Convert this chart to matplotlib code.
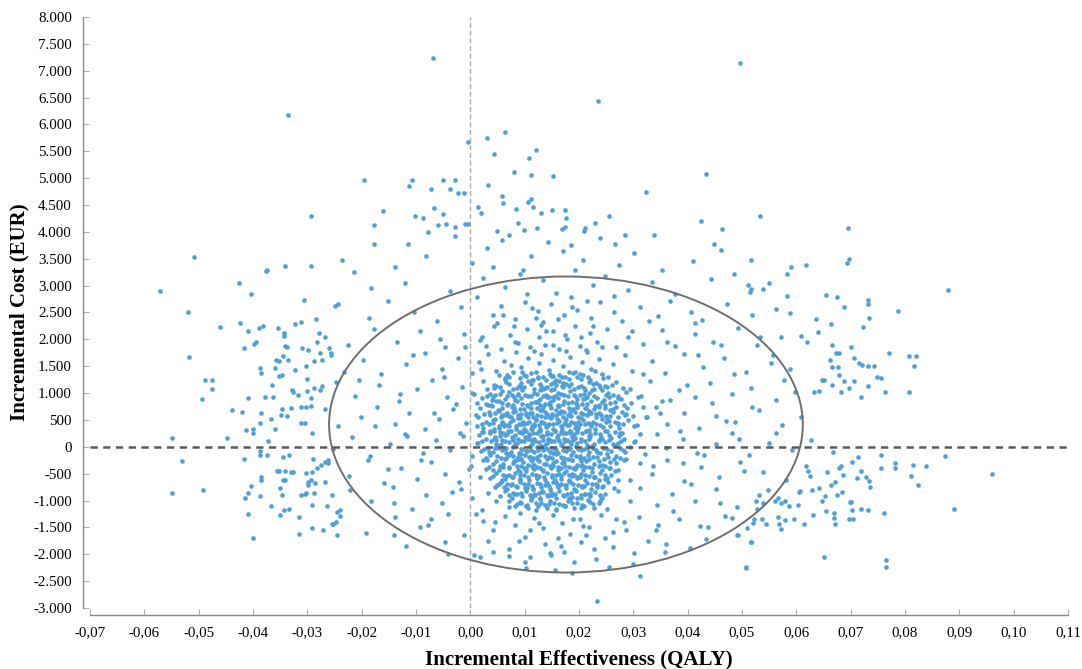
import matplotlib.pyplot as plt
from matplotlib.patches import Ellipse
from matplotlib.ticker import FuncFormatter, MultipleLocator

plt.rcParams['font.family'] = ['Liberation Serif', 'DejaVu Serif']

# Bootstrap simulations as (QALY, EUR) pairs
# outlying points above the ellipse
pts_top = [(-0.0068, 7235), (0.0497, 7140), (0.0235, 6440), (-0.0336, 6180), (-0.0005, 5680), (0.0064, 5860),
           (0.0030, 5750), (0.0044, 5450), (0.0121, 5530), (0.0108, 5380), (0.0081, 5120), (0.0112, 5060),
           (0.0152, 5045), (-0.0195, 4970), (-0.0108, 4970), (-0.0112, 4860), (-0.0050, 4970), (-0.0029, 4970),
           (0.0433, 5080), (0.0323, 4750), (-0.0072, 4790), (-0.0037, 4800), (-0.0022, 4730), (-0.0011, 4730),
           (0.0033, 4880), (0.0059, 4660), (0.0061, 4530), (0.0112, 4620), (0.0106, 4550), (0.0116, 4470),
           (-0.0160, 4380), (-0.0050, 4340), (-0.0066, 4450), (0.0015, 4470), (0.0020, 4360), (0.0084, 4430),
           (0.0130, 4360), (0.0150, 4400), (0.0174, 4400), (0.0176, 4250), (0.0255, 4300), (0.0424, 4210),
           (0.0464, 4060), (0.0448, 3780), (0.0462, 3670), (-0.0178, 4120), (-0.0178, 3780), (-0.0114, 3780),
           (-0.0101, 4290), (-0.0088, 4250), (-0.0077, 3990), (-0.0059, 4120), (-0.0044, 4140), (-0.0029, 4100),
           (-0.0029, 3930), (-0.0009, 4140), (-0.0004, 4140), (0.0050, 4010), (0.0059, 3840), (0.0088, 4160),
           (0.0099, 4030), (0.0123, 4080), (0.0174, 4100), (0.0169, 4060), (0.0211, 4080), (0.0209, 4010),
           (0.0229, 4170), (0.0266, 3770), (0.0284, 3950), (0.0339, 3950)]

# points on the left side
pts_left = [(-0.0294, 4290), (-0.0508, 3525), (-0.0571, 2895), (-0.0376, 3265), (-0.0374, 3300), (-0.0341, 3360),
            (-0.0294, 3360), (-0.0237, 3470), (-0.0426, 3040), (-0.0404, 2840), (-0.0306, 2730), (-0.0250, 2630),
            (-0.0519, 2505), (-0.0461, 2225), (-0.0424, 2300), (-0.0409, 2150), (-0.0389, 2205), (-0.0382, 2245),
            (-0.0354, 2205), (-0.0343, 2115), (-0.0343, 2060), (-0.0323, 2280), (-0.0312, 2320), (-0.0279, 2115),
            (-0.0517, 1670), (-0.0417, 1835), (-0.0398, 1910), (-0.0394, 1950), (-0.0341, 1875), (-0.0338, 1855),
            (-0.0358, 1615), (-0.0352, 1595), (-0.0345, 1690), (-0.0336, 1615), (-0.0299, 1800), (-0.0283, 1950),
            (-0.0277, 1745), (-0.0288, 1595), (-0.0273, 1615), (-0.0261, 1835), (-0.0257, 1745), (-0.0387, 1465),
            (-0.0385, 1375), (-0.0360, 1465), (-0.0352, 1315), (-0.0347, 1335), (-0.0323, 1430), (-0.0488, 1245),
            (-0.0475, 1245), (-0.0475, 1075), (-0.0494, 890), (-0.0365, 1150), (-0.0327, 1020), (-0.0318, 965),
            (-0.0301, 1260), (-0.0301, 1040), (-0.0288, 1095), (-0.0277, 1055), (-0.0273, 1130), (-0.0409, 910),
            (-0.0378, 930), (-0.0363, 930), (-0.0439, 685), (-0.0420, 650), (-0.0385, 630), (-0.0387, 445),
            (-0.0367, 520), (-0.0360, 335), (-0.0413, 315), (-0.0400, 260), (-0.0400, 335), (-0.0347, 705),
            (-0.0338, 575), (-0.0330, 725), (-0.0312, 740), (-0.0303, 740), (-0.0294, 760), (-0.0305, 445),
            (-0.0549, 165), (-0.0448, 165),
            (-0.0530, -260), (-0.0549, -855), (-0.0492, -800), (-0.0417, -225), (-0.0387, -150), (-0.0387, -75),
            (-0.0374, -150), (-0.0345, -185), (-0.0356, -445), (-0.0352, -445), (-0.0385, -555), (-0.0385, -610),
            (-0.0404, -725), (-0.0409, -855), (-0.0415, -945), (-0.0387, -910), (-0.0345, -610), (-0.0341, -610),
            (-0.0350, -760), (-0.0347, -890), (-0.0330, -465), (-0.0327, -465), (-0.0367, -1095), (-0.0409, -1245),
            (-0.0400, -1690), (-0.0350, -1260), (-0.0343, -1170), (-0.0334, -1150), (-0.0316, -1315), (-0.0316, -1630),
            (-0.0303, -480), (-0.0292, -465), (-0.0294, -610), (-0.0299, -705), (-0.0286, -670), (-0.0303, -855),
            (-0.0305, -875), (-0.0288, -855), (-0.0292, -1075), (-0.0292, -1520), (-0.0272, -1540), (-0.0268, -650),
            (-0.0255, -890), (-0.0255, -1445), (-0.0253, -1430), (-0.0246, -1650), (-0.0246, -1205), (-0.0239, -1185),
            (-0.0239, -1280), (-0.0283, -390), (-0.0268, -280), (-0.0262, -240), (-0.0275, -335), (-0.0290, -225)]

# points on the right side
pts_right = [(0.0534, 4300), (0.0695, 4080), (0.0694, 3430), (0.0697, 3490), (0.0516, 3470), (0.0591, 3340),
             (0.0582, 3210), (0.0618, 3375), (0.0879, 2910), (0.0550, 3040), (0.0517, 2930), (0.0514, 2875),
             (0.0538, 2930), (0.0582, 2800), (0.0655, 2820), (0.0675, 2785), (0.0732, 2725), (0.0732, 2655),
             (0.0688, 2595), (0.0787, 2525), (0.0589, 2485), (0.0734, 2395), (0.0637, 2375), (0.0723, 2225),
             (0.0664, 2280), (0.0640, 2135), (0.0609, 2060), (0.0620, 1950), (0.0666, 1890), (0.0701, 1855),
             (0.0771, 1745), (0.0807, 1690), (0.0820, 1690), (0.0817, 1505), (0.0673, 1745), (0.0679, 1745),
             (0.0662, 1615), (0.0706, 1650), (0.0716, 1560), (0.0721, 1520), (0.0732, 1505), (0.0743, 1505),
             (0.0666, 1485), (0.0677, 1485), (0.0749, 1300), (0.0756, 1280), (0.0763, 1020), (0.0807, 1020),
             (0.0732, 1130), (0.0648, 1245), (0.0651, 1245), (0.0633, 1020), (0.0642, 1040), (0.0679, 1335),
             (0.0688, 1225), (0.0697, 1095), (0.0706, 1225), (0.0666, 1150), (0.0683, 1020), (0.0719, 930),
             (0.0960, -500), (0.0890, -1150), (0.0873, -165), (0.0839, -355), (0.0815, -335), (0.0811, -540),
             (0.0824, -705), (0.0782, -295), (0.0782, -390), (0.0756, -150), (0.0756, -390), (0.0761, -1225),
             (0.0765, -2115), (0.0765, -2245), (0.0651, -2060), (0.0508, -2245), (0.0517, -1780), (0.0492, -1650),
             (0.0732, -1185), (0.0719, -1150), (0.0697, -1335), (0.0704, -1335), (0.0699, -1020), (0.0701, -1020),
             (0.0703, -1170), (0.0672, -1445), (0.0670, -1320), (0.0670, -1225), (0.0736, -745), (0.0734, -630),
             (0.0728, -555), (0.0712, -575), (0.0719, -445), (0.0703, -280), (0.0714, -185), (0.0683, -355),
             (0.0684, -835), (0.0675, -890), (0.0653, -910), (0.0648, -1000), (0.0655, -1190), (0.0631, -1265),
             (0.0615, -1430), (0.0596, -1335), (0.0580, -1355), (0.0572, -1525), (0.0569, -1430), (0.0545, -1430),
             (0.0537, -1335), (0.0523, -1335), (0.0510, -1505), (0.0490, -1650), (0.0481, -1320), (0.0642, -760),
             (0.0629, -800), (0.0605, -835), (0.0626, -540), (0.0622, -445), (0.0657, -465), (0.0664, -705),
             (0.0672, -650), (0.0679, -390), (0.0686, -520), (0.0580, -1000), (0.0587, -1095), (0.0604, -1075),
             (0.0561, -1000), (0.0567, -945), (0.0538, -1040), (0.0525, -1000)]

# points below the ellipse
pts_bottom = [(0.0508, -2265), (0.0312, -2410), (0.0233, -2875), (0.0255, -2245), (0.0187, -2355), (0.0156, -2300),
              (0.0103, -2265), (0.0101, -2150), (0.0072, -2040), (0.0042, -1965), (0.0018, -2060), (0.0006, -2020),
              (-0.0046, -1780), (-0.0077, -1450), (-0.0141, -1650), (0.0147, -1985), (0.0149, -2020), (0.0299, -2190),
              (0.0358, -1965), (0.0404, -1875), (0.0516, -1780)]

# main cloud
pts_cloud_upper = [
    (-0.0121, 3050), (-0.0038, 2900), (0.0024, 3150), (0.0063, 2980), (0.0092, 3220), (0.0134, 3100), (0.0158, 2870),
    (0.0193, 3300), (0.0226, 3010), (0.0247, 3180), (0.0291, 2920), (0.0334, 3060), (0.0377, 2850), (0.0443, 3120),
    (-0.0183, 2950), (0.0004, 3420), (0.0112, 3550), (0.0171, 3650), (0.0208, 3480), (0.0273, 3380), (0.0352, 3300),
    (0.0409, 3450), (0.0486, 3210), (0.0031, 3700), (-0.0082, 3560), (0.0143, 3820), (0.0238, 3880), (0.0071, 3950),
    (-0.0138, 3350), (-0.0214, 3250), (0.0512, 3020), (0.0302, 3600), (0.0186, 3750), (0.0097, 3300), (0.0041, 3350),
    (-0.0243, 2650), (-0.0187, 2400), (-0.0152, 2720), (-0.0104, 2500), (-0.0061, 2350), (-0.0018, 2600), (0.0013, 2780),
    (0.0042, 2450), (0.0057, 2620), (0.0083, 2380), (0.0101, 2700), (0.0124, 2520), (0.0133, 2330), (0.0148, 2650),
    (0.0172, 2460), (0.0186, 2780), (0.0197, 2550), (0.0223, 2400), (0.0238, 2690), (0.0264, 2500), (0.0279, 2350),
    (0.0312, 2610), (0.0345, 2430), (0.0368, 2720), (0.0406, 2500), (0.0427, 2360), (0.0473, 2650), (0.0518, 2450),
    (0.0562, 2560), (-0.0284, 2380), (0.0114, 2580), (0.0161, 2370), (0.0215, 2710), (0.0049, 2300),
    (-0.0268, 2050), (-0.0226, 1900), (-0.0177, 2200), (-0.0135, 1950), (-0.0093, 2150), (-0.0047, 1850), (-0.0012, 2100),
    (0.0018, 1980), (0.0044, 2250), (0.0056, 1820), (0.0073, 2080), (0.0088, 1930), (0.0104, 2200), (0.0109, 1850),
    (0.0126, 2050), (0.0137, 1900), (0.0153, 2150), (0.0164, 1820), (0.0178, 2000), (0.0193, 2250), (0.0202, 1870),
    (0.0221, 2120), (0.0234, 1950), (0.0252, 2200), (0.0268, 1850), (0.0291, 2050), (0.0318, 1920), (0.0353, 2180),
    (0.0376, 1880), (0.0414, 2100), (0.0447, 1960), (0.0492, 2220), (0.0528, 1900), (0.0571, 2050), (-0.0309, 1830),
    (0.0131, 2270), (0.0174, 2080), (0.0213, 1800), (0.0028, 1880), (0.0081, 2240)]

pts_cloud_mid = [
    (-0.0302, 1500), (-0.0256, 1700), (-0.0233, 1400), (-0.0198, 1620), (-0.0164, 1350), (-0.0118, 1550), (-0.0083, 1750),
    (-0.0052, 1450), (-0.0023, 1650), (0.0004, 1380), (0.0016, 1580), (0.0033, 1720), (0.0048, 1420), (0.0062, 1600),
    (0.0068, 1330), (0.0084, 1760), (0.0093, 1480), (0.0106, 1650), (0.0112, 1370), (0.0127, 1560), (0.0131, 1720),
    (0.0144, 1430), (0.0152, 1610), (0.0163, 1340), (0.0171, 1500), (0.0184, 1680), (0.0192, 1400), (0.0206, 1570),
    (0.0214, 1770), (0.0222, 1450), (0.0236, 1630), (0.0243, 1350), (0.0262, 1540), (0.0284, 1700), (0.0297, 1420),
    (0.0334, 1600), (0.0358, 1380), (0.0393, 1720), (0.0428, 1480), (0.0467, 1650), (0.0508, 1400), (0.0553, 1560),
    (0.0588, 1450), (0.0117, 1790), (0.0176, 1780), (0.0074, 1530),
    (-0.0328, 1050), (-0.0293, 900), (-0.0247, 1200), (-0.0212, 950), (-0.0168, 1150), (-0.0132, 850), (-0.0098, 1080),
    (-0.0071, 1250), (-0.0043, 920), (-0.0016, 1120), (0.0003, 1000), (0.0012, 820), (0.0024, 1220), (0.0031, 950),
    (0.0043, 1100), (0.0052, 860), (0.0064, 1280), (0.0071, 1020), (0.0082, 880), (0.0094, 1180), (0.0101, 960),
    (0.0113, 1240), (0.0122, 840), (0.0134, 1080), (0.0141, 930), (0.0154, 1200), (0.0161, 1010), (0.0173, 850),
    (0.0182, 1140), (0.0191, 970), (0.0203, 1260), (0.0212, 900), (0.0224, 1060), (0.0231, 1190), (0.0242, 830),
    (0.0253, 1010), (0.0261, 1150), (0.0272, 900), (0.0293, 1080), (0.0314, 940), (0.0331, 1220), (0.0352, 860),
    (0.0384, 1050), (0.0413, 920), (0.0441, 1180), (0.0482, 980), (0.0517, 1100), (0.0563, 880), (0.0597, 1020),
    (0.0086, 1100), (0.0124, 1280), (0.0158, 1150), (0.0194, 820), (0.0238, 1120), (0.0054, 990), (0.0146, 830),
    (-0.0348, 600), (-0.0312, 450), (-0.0268, 700), (-0.0243, 380), (-0.0202, 560), (-0.0171, 750), (-0.0138, 420),
    (-0.0112, 620), (-0.0084, 330), (-0.0058, 520), (-0.0032, 710), (-0.0008, 440), (0.0011, 600), (0.0023, 350),
    (0.0032, 780), (0.0041, 500), (0.0053, 660), (0.0062, 380), (0.0074, 560), (0.0081, 720), (0.0093, 420),
    (0.0102, 620), (0.0113, 330), (0.0121, 510), (0.0132, 690), (0.0143, 400), (0.0151, 580), (0.0162, 760),
    (0.0174, 460), (0.0183, 640), (0.0192, 350), (0.0204, 540), (0.0211, 730), (0.0223, 430), (0.0232, 610),
    (0.0244, 370), (0.0251, 520), (0.0263, 700), (0.0271, 450), (0.0284, 600), (0.0302, 380), (0.0323, 560),
    (0.0341, 740), (0.0362, 420), (0.0394, 620), (0.0421, 350), (0.0453, 580), (0.0488, 460), (0.0532, 680),
    (0.0574, 400), (0.0608, 550), (0.0044, 340), (0.0068, 770), (0.0097, 470), (0.0128, 330), (0.0147, 780),
    (0.0178, 400), (0.0216, 610), (0.0237, 750), (0.0106, 560), (0.0167, 670), (0.0088, 590), (0.0196, 320),
    (0.0257, 580), (0.0058, 460)]

pts_cloud_lower = [
    (-0.0372, 100), (-0.0334, -150), (-0.0291, 250), (-0.0253, -50), (-0.0218, 180), (-0.0184, -180), (-0.0147, 50),
    (-0.0121, 240), (-0.0088, -120), (-0.0063, 130), (-0.0037, -60), (-0.0014, 210), (0.0003, -170), (0.0014, 80),
    (0.0022, 270), (0.0034, -100), (0.0043, 150), (0.0051, -30), (0.0063, 220), (0.0072, -160), (0.0083, 60),
    (0.0091, 280), (0.0104, -80), (0.0112, 120), (0.0123, -190), (0.0131, 20), (0.0142, 230), (0.0153, -120),
    (0.0164, 100), (0.0172, 260), (0.0181, -40), (0.0193, 170), (0.0202, -170), (0.0214, 40), (0.0221, 240),
    (0.0233, -90), (0.0242, 140), (0.0254, -190), (0.0262, 60), (0.0273, 200), (0.0281, -60), (0.0304, 110),
    (0.0322, -140), (0.0343, 230), (0.0361, -20), (0.0392, 150), (0.0418, -110), (0.0452, 50), (0.0481, 250),
    (0.0513, -150), (0.0549, 80), (0.0592, -60), (0.0627, 130), (0.0668, -100), (0.0054, 280), (0.0093, -140),
    (0.0138, -30), (0.0184, 250), (0.0226, -20), (0.0108, -190), (0.0157, -60),
    (-0.0341, -450), (-0.0298, -650), (-0.0262, -300), (-0.0223, -550), (-0.0189, -250), (-0.0158, -680), (-0.0127, -400),
    (-0.0098, -600), (-0.0072, -280), (-0.0047, -500), (-0.0021, -660), (0.0002, -350), (0.0018, -560), (0.0031, -240),
    (0.0042, -430), (0.0053, -690), (0.0061, -320), (0.0072, -520), (0.0084, -250), (0.0091, -610), (0.0103, -400),
    (0.0114, -270), (0.0122, -580), (0.0133, -450), (0.0141, -680), (0.0152, -300), (0.0163, -510), (0.0171, -230),
    (0.0182, -640), (0.0194, -380), (0.0201, -560), (0.0213, -260), (0.0224, -470), (0.0232, -690), (0.0243, -340),
    (0.0251, -580), (0.0264, -220), (0.0272, -430), (0.0293, -620), (0.0312, -300), (0.0334, -500), (0.0362, -250),
    (0.0393, -640), (0.0424, -380), (0.0458, -560), (0.0497, -290), (0.0538, -470), (0.0581, -620), (0.0617, -350),
    (0.0077, -690), (0.0118, -330), (0.0157, -660), (0.0204, -220), (0.0064, -600), (0.0187, -500), (0.0236, -620),
    (-0.0312, -900), (-0.0264, -1100), (-0.0221, -800), (-0.0183, -1000), (-0.0142, -750), (-0.0108, -1150),
    (-0.0081, -900), (-0.0053, -1050), (-0.0018, -780), (0.0004, -950), (0.0021, -1180), (0.0033, -860), (0.0048, -1000),
    (0.0062, -740), (0.0071, -1120), (0.0083, -880), (0.0092, -1030), (0.0104, -760), (0.0113, -940), (0.0121, -1170),
    (0.0132, -820), (0.0144, -1060), (0.0151, -900), (0.0162, -730), (0.0174, -1100), (0.0181, -960), (0.0193, -800),
    (0.0204, -1140), (0.0212, -870), (0.0221, -1020), (0.0233, -750), (0.0241, -940), (0.0252, -1150), (0.0271, -830),
    (0.0293, -1000), (0.0312, -760), (0.0343, -1080), (0.0372, -880), (0.0414, -1010), (0.0452, -790), (0.0491, -1120),
    (0.0532, -900), (0.0571, -1050), (0.0606, -820), (0.0116, -780), (0.0158, -1180), (0.0197, -950), (0.0128, -980),
    (-0.0247, -1400), (-0.0192, -1600), (-0.0138, -1300), (-0.0093, -1500), (-0.0042, -1250), (-0.0011, -1650),
    (0.0023, -1380), (0.0041, -1550), (0.0063, -1280), (0.0082, -1450), (0.0101, -1680), (0.0118, -1330), (0.0134, -1520),
    (0.0152, -1260), (0.0168, -1420), (0.0183, -1620), (0.0202, -1350), (0.0218, -1500), (0.0241, -1270), (0.0262, -1580),
    (0.0283, -1400), (0.0311, -1300), (0.0342, -1550), (0.0384, -1350), (0.0423, -1480), (0.0468, -1280), (0.0521, -1420),
    (0.0566, -1300), (0.0092, -1230), (0.0161, -1700), (0.0213, -1650),
    (-0.0118, -1850), (-0.0041, -2000), (0.0032, -1750), (0.0071, -1900), (0.0109, -2050), (0.0138, -1800),
    (0.0172, -1950), (0.0203, -1780), (0.0231, -2080), (0.0262, -1860), (0.0302, -1980), (0.0361, -1800),
    (0.0433, -1720), (0.0191, -2150)]

# ring between the dense core and the ellipse
pts_ring = [(-0.0204, 1250), (-0.0176, 380), (-0.0152, -420), (-0.0129, 980), (-0.0106, 1700), (-0.0091, -250),
            (-0.0067, 620), (-0.0048, 1300), (-0.0033, -850), (-0.0019, 260), (-0.0009, 1850), (-0.0002, -420),
            (0.0007, 980), (0.0011, -1250), (0.0019, 1450), (-0.0141, -1050), (-0.0117, 200), (-0.0072, -1350),
            (-0.0056, 2000), (-0.0026, 800),
            (0.0318, 1350), (0.0337, -350), (0.0349, 620), (0.0362, 1950), (0.0373, -1200), (0.0386, 300),
            (0.0398, 1150), (0.0407, -700), (0.0419, 1700), (0.0431, -150), (0.0444, 820), (0.0459, -1050),
            (0.0471, 480), (0.0486, 1350), (0.0503, -450), (0.0519, 750), (0.0534, 2050), (0.0548, -800),
            (0.0562, 250), (0.0577, 1250), (0.0329, 2350), (0.0346, -1450), (0.0368, 880), (0.0391, -300),
            (0.0413, 2300), (0.0438, -1500), (0.0462, 1900), (0.0494, 150), (0.0527, -1150), (0.0558, 1700),
            (0.0022, 2050), (0.0061, 2450), (0.0104, 2850), (0.0139, 2150), (0.0187, 2600), (0.0226, 2250),
            (0.0264, 2800), (0.0298, 2150), (0.0082, 1950), (0.0152, 1900), (0.0243, 1850), (0.0121, 2400),
            (0.0203, 2050),
            (0.0046, -1400), (0.0089, -1750), (0.0127, -1420), (0.0166, -1850), (0.0208, -1480), (0.0247, -1700),
            (0.0286, -1550), (0.0327, -1750), (0.0109, -1550), (0.0189, -1350), (0.0228, -1900), (0.0268, -1350)]

# densest part of the cloud
pts_core = [(0.0078, 150), (0.0118, 380), (0.0136, -320), (0.0159, 520), (0.0188, -250), (0.0207, 890), (0.0129, 1050),
            (0.0148, -840), (0.0167, 280), (0.0091, -460), (0.0112, 720), (0.0199, 460), (0.0227, -560), (0.0176, -720),
            (0.0143, 150), (0.0124, -60), (0.0185, 60), (0.0098, 330), (0.0087, 980), (0.0218, 320), (0.0246, 880),
            (0.0256, -400), (0.0066, -120), (0.0058, 600), (0.0137, 560), (0.0152, 930), (0.0171, 1180), (0.0119, -900),
            (0.0183, -980), (0.0095, 1400), (0.0209, -730), (0.0228, 700), (0.0276, 260), (0.0287, -220), (0.0047, 50),
            (0.0039, 880), (0.0108, 200), (0.0166, -400), (0.0197, 740), (0.0241, 180), (0.0132, 460), (0.0155, -620),
            (0.0078, -860), (0.0212, 1050), (0.0149, 1320), (0.0102, -1100), (0.0239, -1000), (0.0178, 120),
            (0.0125, 860), (0.0191, -530), (0.0164, 620), (0.0116, -400), (0.0139, 1250), (0.0071, 380), (0.0256, 480),
            (0.0206, -330), (0.0089, -230), (0.0153, 340), (0.0219, -880), (0.0182, 1400),
            (0.0052, 1330), (0.0079, 1390), (0.0103, 1310), (0.0121, 1400), (0.0146, 1360), (0.0168, 1300), (0.0189, 1380),
            (0.0207, 1330), (0.0229, 1410), (0.0254, 1300),
            (0.0043, 1150), (0.0066, 1210), (0.0089, 1140), (0.0107, 1230), (0.0128, 1170), (0.0141, 1120), (0.0163, 1220),
            (0.0176, 1160), (0.0199, 1110), (0.0218, 1200), (0.0236, 1150), (0.0268, 1210),
            (0.0036, 990), (0.0058, 1040), (0.0077, 960), (0.0096, 1060), (0.0117, 1000), (0.0133, 950), (0.0149, 1050),
            (0.0166, 990), (0.0184, 1030), (0.0201, 960), (0.0219, 1010), (0.0243, 1060), (0.0262, 970), (0.0287, 1020),
            (0.0029, 800), (0.0047, 860), (0.0069, 790), (0.0086, 850), (0.0104, 780), (0.0119, 840), (0.0137, 800),
            (0.0153, 870), (0.0171, 790), (0.0188, 840), (0.0206, 800), (0.0223, 860), (0.0248, 780), (0.0267, 830),
            (0.0296, 810),
            (0.0034, 640), (0.0051, 690), (0.0067, 620), (0.0083, 660), (0.0099, 700), (0.0114, 630), (0.0129, 680),
            (0.0142, 610), (0.0158, 690), (0.0172, 640), (0.0189, 700), (0.0203, 620), (0.0219, 670), (0.0236, 630),
            (0.0258, 690), (0.0279, 640),
            (0.0029, 470), (0.0046, 520), (0.0061, 450), (0.0078, 500), (0.0092, 540), (0.0108, 460), (0.0121, 500),
            (0.0136, 450), (0.0149, 530), (0.0163, 480), (0.0177, 520), (0.0191, 450), (0.0208, 500), (0.0226, 460),
            (0.0243, 520), (0.0266, 470), (0.0291, 500),
            (0.0037, 300), (0.0052, 350), (0.0069, 290), (0.0084, 340), (0.0097, 280), (0.0111, 330), (0.0127, 300),
            (0.0139, 360), (0.0156, 290), (0.0169, 340), (0.0183, 300), (0.0198, 350), (0.0213, 290), (0.0229, 340),
            (0.0251, 300), (0.0274, 350),
            (0.0028, 150), (0.0045, 190), (0.0059, 130), (0.0076, 180), (0.0088, 140), (0.0101, 190), (0.0117, 150),
            (0.0131, 200), (0.0146, 130), (0.0159, 180), (0.0173, 140), (0.0187, 190), (0.0204, 150), (0.0218, 200),
            (0.0236, 130), (0.0259, 170), (0.0283, 140),
            (0.0033, -20), (0.0049, 30), (0.0066, -30), (0.0081, 20), (0.0094, -40), (0.0109, 10), (0.0122, -10),
            (0.0137, 40), (0.0151, -20), (0.0166, 30), (0.0179, -30), (0.0194, 20), (0.0209, -40), (0.0224, 10),
            (0.0244, -20), (0.0268, 30), (0.0294, -10),
            (0.0037, -150), (0.0056, -200), (0.0072, -140), (0.0087, -190), (0.0101, -160), (0.0116, -210), (0.0128, -150),
            (0.0144, -190), (0.0158, -140), (0.0172, -200), (0.0186, -160), (0.0201, -210), (0.0217, -150), (0.0233, -190),
            (0.0252, -140), (0.0276, -200),
            (0.0042, -320), (0.0061, -370), (0.0078, -310), (0.0093, -360), (0.0106, -330), (0.0122, -380), (0.0139, -320),
            (0.0153, -360), (0.0168, -310), (0.0181, -370), (0.0196, -330), (0.0211, -380), (0.0228, -320), (0.0247, -360),
            (0.0269, -310),
            (0.0048, -490), (0.0066, -540), (0.0083, -480), (0.0098, -530), (0.0113, -500), (0.0127, -550), (0.0142, -490),
            (0.0158, -530), (0.0173, -480), (0.0188, -540), (0.0203, -500), (0.0219, -550), (0.0238, -490), (0.0259, -530),
            (0.0056, -660), (0.0074, -710), (0.0091, -650), (0.0107, -700), (0.0123, -670), (0.0138, -720), (0.0152, -660),
            (0.0167, -700), (0.0183, -650), (0.0198, -710), (0.0214, -670), (0.0233, -710), (0.0254, -660),
            (0.0063, -830), (0.0085, -870), (0.0102, -820), (0.0118, -880), (0.0134, -840), (0.0149, -890), (0.0164, -830),
            (0.0178, -870), (0.0194, -820), (0.0211, -880), (0.0229, -840), (0.0248, -870),
            (0.0071, -1000), (0.0094, -1050), (0.0112, -990), (0.0131, -1040), (0.0147, -1000), (0.0163, -1060),
            (0.0179, -1010), (0.0196, -1040), (0.0216, -990), (0.0237, -1050)]

# second pass over the core, between the rows above
pts_core_fill = [
    (0.0064, 1240), (0.0091, 1280), (0.0115, 1250), (0.0134, 1290), (0.0157, 1240), (0.0181, 1270), (0.0196, 1300),
    (0.0221, 1250), (0.0244, 1280),
    (0.0031, 1070), (0.0054, 1110), (0.0078, 1080), (0.0098, 1120), (0.0118, 1070), (0.0137, 1100), (0.0154, 1080),
    (0.0171, 1120), (0.0191, 1070), (0.0209, 1100), (0.0227, 1080), (0.0252, 1110), (0.0281, 1090),
    (0.0021, 900), (0.0041, 930), (0.0063, 890), (0.0081, 920), (0.0093, 900), (0.0112, 940), (0.0128, 890),
    (0.0144, 920), (0.0162, 900), (0.0179, 940), (0.0197, 890), (0.0214, 930), (0.0233, 900), (0.0256, 920),
    (0.0278, 890), (0.0308, 920),
    (0.0018, 720), (0.0039, 760), (0.0058, 730), (0.0076, 750), (0.0091, 710), (0.0106, 760), (0.0122, 720),
    (0.0134, 750), (0.0149, 730), (0.0164, 760), (0.0181, 720), (0.0196, 750), (0.0213, 730), (0.0229, 760),
    (0.0247, 720), (0.0269, 750), (0.0289, 730), (0.0318, 740),
    (0.0014, 550), (0.0037, 590), (0.0056, 560), (0.0071, 580), (0.0087, 540), (0.0103, 590), (0.0116, 560),
    (0.0131, 580), (0.0144, 550), (0.0157, 590), (0.0171, 560), (0.0186, 580), (0.0199, 550), (0.0214, 590),
    (0.0231, 560), (0.0249, 580), (0.0272, 550), (0.0299, 580), (0.0326, 560),
    (0.0012, 390), (0.0034, 420), (0.0053, 380), (0.0068, 410), (0.0084, 390), (0.0099, 420), (0.0114, 380),
    (0.0126, 410), (0.0141, 390), (0.0153, 420), (0.0167, 380), (0.0181, 410), (0.0194, 390), (0.0211, 420),
    (0.0222, 380), (0.0239, 410), (0.0258, 390), (0.0281, 420), (0.0306, 400),
    (0.0016, 220), (0.0036, 250), (0.0054, 210), (0.0067, 240), (0.0082, 220), (0.0096, 260), (0.0108, 230),
    (0.0122, 250), (0.0134, 210), (0.0148, 240), (0.0162, 220), (0.0176, 260), (0.0191, 230), (0.0206, 250),
    (0.0221, 210), (0.0238, 240), (0.0256, 220), (0.0279, 250), (0.0312, 230),
    (0.0012, 70), (0.0038, 100), (0.0056, 60), (0.0071, 90), (0.0086, 70), (0.0099, 100), (0.0113, 60),
    (0.0127, 90), (0.0141, 70), (0.0154, 100), (0.0168, 60), (0.0183, 90), (0.0197, 70), (0.0212, 100),
    (0.0228, 60), (0.0247, 90), (0.0271, 70), (0.0301, 90),
    (0.0019, -70), (0.0041, -100), (0.0058, -60), (0.0074, -90), (0.0089, -110), (0.0103, -70), (0.0118, -100),
    (0.0133, -60), (0.0147, -90), (0.0161, -110), (0.0176, -70), (0.0189, -100), (0.0204, -60), (0.0219, -90),
    (0.0238, -110), (0.0259, -70), (0.0284, -100),
    (0.0024, -240), (0.0047, -270), (0.0064, -230), (0.0081, -260), (0.0097, -280), (0.0111, -240), (0.0126, -270),
    (0.0142, -230), (0.0157, -260), (0.0173, -280), (0.0188, -240), (0.0203, -270), (0.0219, -230), (0.0237, -260),
    (0.0258, -280), (0.0283, -240),
    (0.0029, -410), (0.0053, -440), (0.0071, -400), (0.0087, -430), (0.0102, -450), (0.0118, -410), (0.0133, -440),
    (0.0148, -400), (0.0162, -430), (0.0177, -450), (0.0192, -410), (0.0207, -440), (0.0224, -400), (0.0243, -430),
    (0.0266, -450),
    (0.0037, -580), (0.0058, -610), (0.0076, -570), (0.0092, -600), (0.0108, -620), (0.0122, -580), (0.0137, -610),
    (0.0151, -570), (0.0166, -600), (0.0181, -620), (0.0196, -580), (0.0212, -610), (0.0229, -570), (0.0248, -600),
    (0.0271, -620),
    (0.0046, -750), (0.0067, -780), (0.0086, -740), (0.0101, -770), (0.0116, -790), (0.0131, -750), (0.0146, -780),
    (0.0161, -740), (0.0176, -770), (0.0191, -790), (0.0206, -750), (0.0223, -780), (0.0242, -740), (0.0264, -770),
    (0.0054, -920), (0.0077, -950), (0.0096, -910), (0.0112, -940), (0.0128, -960), (0.0143, -920), (0.0158, -950),
    (0.0172, -910), (0.0187, -940), (0.0203, -960), (0.0221, -920), (0.0243, -950),
    (0.0083, -1110), (0.0106, -1140), (0.0124, -1100), (0.0141, -1130), (0.0157, -1150), (0.0174, -1110),
    (0.0191, -1140), (0.0209, -1100), (0.0228, -1130)]

# third pass over the solid centre of the cloud
pts_core_fill2 = [
    (0.0072, 1300), (0.0098, 1330), (0.0125, 1290), (0.0152, 1320), (0.0174, 1290), (0.0201, 1350), (0.0216, 1290),
    (0.0048, 1130), (0.0072, 1160), (0.0093, 1120), (0.0112, 1170), (0.0131, 1140), (0.0148, 1170), (0.0168, 1130),
    (0.0186, 1160), (0.0204, 1130), (0.0226, 1170), (0.0247, 1130),
    (0.0046, 960), (0.0068, 940), (0.0087, 970), (0.0106, 950), (0.0123, 980), (0.0139, 960), (0.0156, 940),
    (0.0173, 970), (0.0192, 950), (0.0209, 980), (0.0228, 950), (0.0249, 970), (0.0272, 950),
    (0.0038, 780), (0.0058, 810), (0.0079, 770), (0.0095, 800), (0.0112, 810), (0.0128, 770), (0.0145, 800),
    (0.0162, 780), (0.0179, 810), (0.0197, 770), (0.0214, 800), (0.0236, 780), (0.0258, 810), (0.0282, 780),
    (0.0026, 610), (0.0045, 630), (0.0063, 600), (0.0079, 640), (0.0094, 610), (0.0109, 630), (0.0123, 600),
    (0.0137, 640), (0.0151, 610), (0.0165, 630), (0.0179, 600), (0.0193, 640), (0.0207, 610), (0.0223, 630),
    (0.0241, 600), (0.0262, 640), (0.0286, 610),
    (0.0021, 430), (0.0041, 450), (0.0058, 420), (0.0073, 460), (0.0089, 430), (0.0104, 450), (0.0118, 420),
    (0.0131, 460), (0.0145, 430), (0.0159, 450), (0.0172, 420), (0.0186, 460), (0.0201, 430), (0.0217, 450),
    (0.0231, 420), (0.0249, 460), (0.0271, 430),
    (0.0024, 270), (0.0044, 290), (0.0061, 260), (0.0075, 300), (0.0089, 270), (0.0103, 290), (0.0116, 260),
    (0.0129, 300), (0.0142, 270), (0.0155, 290), (0.0169, 260), (0.0183, 300), (0.0197, 270), (0.0213, 290),
    (0.0229, 260), (0.0247, 300), (0.0266, 270),
    (0.0021, 110), (0.0047, 130), (0.0063, 100), (0.0078, 130), (0.0093, 110), (0.0106, 140), (0.0119, 100),
    (0.0134, 130), (0.0148, 110), (0.0161, 140), (0.0175, 100), (0.0189, 130), (0.0204, 110), (0.0219, 140),
    (0.0236, 100), (0.0256, 130), (0.0278, 110),
    (0.0026, -40), (0.0046, -20), (0.0063, -50), (0.0079, -10), (0.0096, -40), (0.0111, -60), (0.0126, -20),
    (0.0141, -50), (0.0156, -30), (0.0171, -60), (0.0184, -20), (0.0198, -50), (0.0214, -30), (0.0231, -60),
    (0.0252, -40), (0.0276, -30),
    (0.0029, -200), (0.0049, -180), (0.0066, -210), (0.0079, -180), (0.0094, -220), (0.0109, -190), (0.0122, -220),
    (0.0137, -180), (0.0151, -210), (0.0166, -190), (0.0179, -220), (0.0194, -180), (0.0209, -210), (0.0226, -190),
    (0.0246, -220), (0.0268, -180),
    (0.0034, -370), (0.0055, -350), (0.0071, -380), (0.0086, -350), (0.0099, -390), (0.0114, -360), (0.0129, -390),
    (0.0146, -350), (0.0161, -380), (0.0174, -360), (0.0189, -390), (0.0203, -350), (0.0219, -380), (0.0236, -360),
    (0.0257, -390),
    (0.0041, -540), (0.0061, -520), (0.0078, -560), (0.0092, -520), (0.0106, -560), (0.0121, -530), (0.0136, -560),
    (0.0151, -520), (0.0166, -550), (0.0181, -520), (0.0196, -560), (0.0211, -530), (0.0228, -560), (0.0248, -520),
    (0.0049, -710), (0.0067, -690), (0.0084, -730), (0.0099, -690), (0.0114, -730), (0.0129, -700), (0.0145, -730),
    (0.0159, -690), (0.0174, -720), (0.0189, -690), (0.0206, -730), (0.0224, -700), (0.0244, -730),
    (0.0072, -890), (0.0093, -860), (0.0109, -900), (0.0126, -860), (0.0141, -900), (0.0156, -870), (0.0171, -900),
    (0.0186, -860), (0.0203, -900), (0.0221, -870), (0.0238, -900),
    (0.0086, -1060), (0.0104, -1080), (0.0121, -1050), (0.0138, -1080), (0.0154, -1040), (0.0171, -1080),
    (0.0188, -1050), (0.0206, -1080), (0.0226, -1060)]

# confidence ellipse
ell_center = (0.0176, 415)
ell_width = 0.0872
ell_height = 5510

all_pts = (pts_top + pts_left + pts_right + pts_bottom + pts_cloud_upper + pts_cloud_mid + pts_cloud_lower
           + pts_ring + pts_core + pts_core_fill + pts_core_fill2)
xs = [p[0] for p in all_pts]
ys = [p[1] for p in all_pts]

fig = plt.figure(figsize=(10.82, 6.69), dpi=100)
ax = fig.add_axes([0.0832, 0.0912, 0.9038, 0.8834])

ax.scatter(xs, ys, s=11, color='#4f9fd8', linewidths=0, zorder=2)
ax.axhline(0, color='#5a5a5a', lw=1.8, dashes=(2.9, 2.2), zorder=3)
ax.axvline(0, color='#ababab', lw=1, dashes=(3.5, 2), zorder=3)
ax.add_patch(Ellipse(ell_center, ell_width, ell_height, fill=False, edgecolor='#6e6e6e', lw=1.4, zorder=4))

ax.set_xlim(-0.07, 0.11)
ax.set_ylim(-3000, 8000)
ax.xaxis.set_major_locator(MultipleLocator(0.01))
ax.yaxis.set_major_locator(MultipleLocator(500))
ax.xaxis.set_major_formatter(FuncFormatter(lambda v, p: f"{round(v, 2) + 0:.2f}".replace('.', ',')))
ax.yaxis.set_major_formatter(FuncFormatter(lambda v, p: f"{int(round(v)):,}".replace(',', '.')))

for s in ['top', 'right']:
    ax.spines[s].set_visible(False)
for s in ['left', 'bottom']:
    ax.spines[s].set_color('#8a8a8a')
    ax.spines[s].set_linewidth(1)
    ax.spines[s].set_position(('outward', 5))

ax.tick_params(axis='both', direction='in', length=4, color='#b0b0b0', labelsize=10.8, labelcolor='black')
ax.tick_params(axis='x', pad=8)
ax.tick_params(axis='y', pad=8)

ax.set_xlabel('Incremental Effectiveness (QALY)', fontsize=15, fontweight='bold')
ax.set_ylabel('Incremental Cost (EUR)', fontsize=15, fontweight='bold')
ax.xaxis.set_label_coords(0.5, -0.07)
ax.yaxis.set_label_coords(-0.062, 0.5)

fig.savefig('out.png', dpi=100)
